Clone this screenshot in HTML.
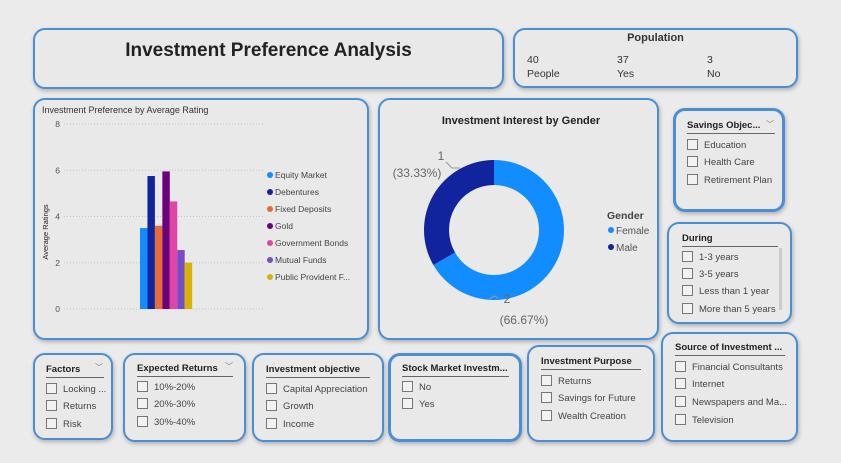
<!DOCTYPE html>
<html><head><meta charset="utf-8"><style>
body{margin:0;width:841px;height:463px;background:#ebebeb;font-family:"Liberation Sans",sans-serif;position:relative;overflow:hidden;color:#333}
.p{position:absolute;box-sizing:border-box;border:2px solid #4a8fd6;border-radius:12px;background:#e9e9e9;box-shadow:1px 2px 4px rgba(0,0,0,.25)}
.sh{position:absolute;font-size:9.5px;font-weight:bold;color:#222;border-bottom:1px solid #666;padding-bottom:2px}
.it{position:absolute;font-size:9.5px;color:#444;white-space:nowrap}
.it:before{content:"";display:inline-block;width:9px;height:9px;border:1px solid #777;margin-right:6px;vertical-align:-2px;background:#f2f2f2}
.chev{position:absolute;font-size:8px;color:#777}
</style></head><body>
<div class="p" style="left:33px;top:28px;width:471px;height:61px"><div style="text-align:center;font-size:19px;font-weight:bold;color:#222;margin-top:10px">Investment Preference Analysis</div></div>
<div class="p" style="left:513px;top:28px;width:285px;height:60px">
<div style="position:absolute;left:0;right:0;top:2px;text-align:center;font-size:11px;font-weight:bold">Population</div>
<div style="position:absolute;left:12px;top:23px;font-size:10.5px;line-height:14px">40<br>People</div>
<div style="position:absolute;left:102px;top:23px;font-size:10.5px;line-height:14px">37<br>Yes</div>
<div style="position:absolute;left:192px;top:23px;font-size:10.5px;line-height:14px">3<br>No</div></div>
<div class="p" style="left:33px;top:98px;width:336px;height:242px"></div>
<svg id="bar" width="841" height="463" style="position:absolute;left:0;top:0"></svg>
<div class="p" style="left:378px;top:98px;width:281px;height:242px"></div>
<svg id="donut" width="841" height="463" style="position:absolute;left:0;top:0"></svg>

<div class="p" style="left:673px;top:108px;width:112px;height:104px;border-width:3px">
<div class="sh" style="left:11px;top:9px;width:88px">Savings Objec...</div><div class="chev" style="left:90px;top:8px">﹀</div>
<div class="it" style="left:11px;top:28px">Education</div><div class="it" style="left:11px;top:45px">Health Care</div><div class="it" style="left:11px;top:63px">Retirement Plan</div></div>
<div class="p" style="left:667px;top:222px;width:125px;height:102px">
<div class="sh" style="left:13px;top:9px;width:96px">During</div>
<div style="position:absolute;left:110px;top:24px;width:3px;height:62px;background:#ccc"></div>
<div class="it" style="left:13px;top:27px">1-3 years</div><div class="it" style="left:13px;top:44px">3-5 years</div><div class="it" style="left:13px;top:61px">Less than 1 year</div><div class="it" style="left:13px;top:79px">More than 5 years</div></div>
<div class="p" style="left:33px;top:353px;width:80px;height:87px">
<div class="sh" style="left:11px;top:9px;width:58px">Factors</div><div class="chev" style="left:60px;top:7px">﹀</div>
<div class="it" style="left:11px;top:28px">Locking ...</div><div class="it" style="left:11px;top:45px">Returns</div><div class="it" style="left:11px;top:63px">Risk</div></div>
<div class="p" style="left:123px;top:353px;width:123px;height:89px">
<div class="sh" style="left:12px;top:8px;width:96px">Expected Returns</div><div class="chev" style="left:100px;top:6px">﹀</div>
<div class="it" style="left:12px;top:26px">10%-20%</div><div class="it" style="left:12px;top:43px">20%-30%</div><div class="it" style="left:12px;top:61px">30%-40%</div></div>
<div class="p" style="left:252px;top:353px;width:132px;height:89px">
<div class="sh" style="left:12px;top:9px;width:104px">Investment objective</div>
<div class="it" style="left:12px;top:28px">Capital Appreciation</div><div class="it" style="left:12px;top:45px">Growth</div><div class="it" style="left:12px;top:63px">Income</div></div>
<div class="p" style="left:388px;top:353px;width:134px;height:89px;border-width:3px">
<div class="sh" style="left:11px;top:7px;width:107px">Stock Market Investm...</div>
<div class="it" style="left:11px;top:25px">No</div><div class="it" style="left:11px;top:42px">Yes</div></div>
<div class="p" style="left:527px;top:345px;width:128px;height:97px">
<div class="sh" style="left:12px;top:9px;width:100px">Investment Purpose</div>
<div class="it" style="left:12px;top:28px">Returns</div><div class="it" style="left:12px;top:45px">Savings for Future</div><div class="it" style="left:12px;top:63px">Wealth Creation</div></div>
<div class="p" style="left:661px;top:332px;width:137px;height:110px">
<div class="sh" style="left:12px;top:8px;width:110px">Source of Investment ...</div>
<div class="it" style="left:12px;top:27px">Financial Consultants</div><div class="it" style="left:12px;top:44px">Internet</div><div class="it" style="left:12px;top:62px">Newspapers and Ma...</div><div class="it" style="left:12px;top:80px">Television</div></div>

<script>
const categories=["Equity Market","Debentures","Fixed Deposits","Gold","Government Bonds","Mutual Funds","Public Provident F..."];
const ratings=[3.5,5.75,3.6,5.95,4.65,2.55,2.0];
const colors=["#118dff","#12239e","#e66c37","#6b007b","#e044a7","#744ec2","#d9b300"];
const yTicks=[0,2,4,6,8];
const genders=["Female","Male"];
const genderCounts=[2,1];
const genderColors=["#118dff","#12239e"];
const NS="http://www.w3.org/2000/svg";
function mk(p,t,a,txt){const e=document.createElementNS(NS,t);for(const k in a)e.setAttribute(k,a[k]);if(txt!=null)e.textContent=txt;p.appendChild(e);return e;}
const bar=document.getElementById('bar');
const y=v=>309-v*(185/8);
const x0=140,bw=7.45;
const bt=mk(bar,'text',{x:42,y:113,'font-size':9,fill:'#333'},'Investment Preference by Average Rating');

const yt=mk(bar,'text',{x:0,y:0,'font-size':7.5,fill:'#222',transform:'translate(48,232) rotate(-90)','text-anchor':'middle'},'Average Ratings');

yTicks.forEach(t=>{
 const l=mk(bar,'line',{x1:64,x2:263,y1:y(t),y2:y(t),stroke:'#c4c4c4','stroke-dasharray':'1 2'});
 
 const tx=mk(bar,'text',{x:60,y:y(t)+3,'font-size':8.5,fill:'#555','text-anchor':'end'},String(t));
 
});
ratings.forEach((v,i)=>{
 const r=mk(bar,'rect',{x:x0+i*bw,y:y(v),width:bw,height:y(0)-y(v),fill:colors[i]});
 
 
 const c=mk(bar,'circle',{cx:270,cy:175+i*17,r:3,fill:colors[i]});
 
 const lt=mk(bar,'text',{x:275,y:178+i*17,'font-size':8.5,fill:'#444'},categories[i]);
 
});
const dn=document.getElementById('donut');
const dt=mk(dn,'text',{x:521,y:124,'font-size':11,'font-weight':'bold',fill:'#222','text-anchor':'middle'},'Investment Interest by Gender');

const cx=494,cy=230,R=70,r0=45,tot=genderCounts.reduce((a,b)=>a+b,0);
let a=0;
genderCounts.forEach((v,i)=>{
 const a1=a+v/tot*2*Math.PI;
 const pt=(rr,ang)=>[cx+rr*Math.sin(ang),cy-rr*Math.cos(ang)];
 const [x1,y1]=pt(R,a),[x2,y2]=pt(R,a1),[x3,y3]=pt(r0,a1),[x4,y4]=pt(r0,a);
 const lg=(a1-a)>Math.PI?1:0;
 const p=mk(dn,'path',{d:`M${x1},${y1}A${R},${R} 0 ${lg} 1 ${x2},${y2}L${x3},${y3}A${r0},${r0} 0 ${lg} 0 ${x4},${y4}Z`,fill:genderColors[i]});
 
 a=a1;
 const lg2=mk(dn,'circle',{cx:611,cy:230+i*17,r:3,fill:genderColors[i]});
 
 const lt=mk(dn,'text',{x:616,y:234+i*17,'font-size':10,fill:'#555'},genders[i]);
 
});
const gt=mk(dn,'text',{x:607,y:219,'font-size':10.5,'font-weight':'bold',fill:'#444'},'Gender');

const pct=v=>(v/tot*100).toFixed(2)+'%';
const l1=mk(dn,'text',{x:441,y:160,'font-size':12,fill:'#666','text-anchor':'middle'},genderCounts[1]+'');

const l1b=mk(dn,'text',{x:417,y:177,'font-size':12,fill:'#666','text-anchor':'middle'},'('+pct(genderCounts[1])+')');

const l2=mk(dn,'text',{x:507,y:303,'font-size':12,fill:'#666','text-anchor':'middle'},genderCounts[0]+'');

const l2b=mk(dn,'text',{x:524,y:324,'font-size':12,fill:'#666','text-anchor':'middle'},'('+pct(genderCounts[0])+')');

mk(dn,'path',{d:'M446,162 L452,168 L460,168',stroke:'#999',fill:'none'});
mk(dn,'path',{d:'M488,300 L494,296 L498,298',stroke:'#999',fill:'none'});
</script>
</body></html>
